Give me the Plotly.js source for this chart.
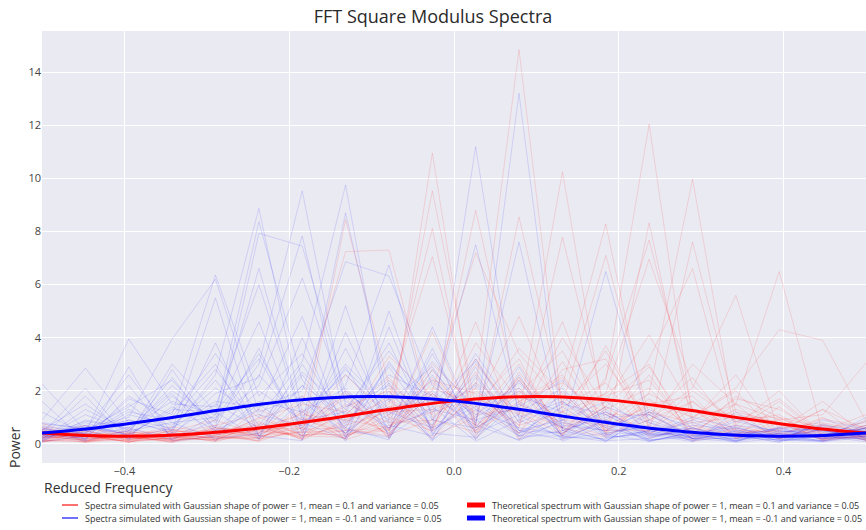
<!DOCTYPE html>
<html>
<head>
<meta charset="utf-8">
<script src="https://cdn.plot.ly/plotly-3.0.1.min.js"></script>
<style>html,body{margin:0;padding:0;background:#fff;}#chart{width:866px;height:530px;}</style>
</head>
<body>
<div id="chart"></div>
<script>
// Frequency grid of the simulated spectra
const freqs = [-0.5,-0.4474,-0.3947,-0.3421,-0.2895,-0.2368,-0.1842,-0.1316,-0.0789,-0.0263,
  0.0263,0.0789,0.1316,0.1842,0.2368,0.2895,0.3421,0.3947,0.4474,0.5];

// Theoretical spectra
const theoFreqs = [-0.5,-0.45,-0.4,-0.35,-0.3,-0.25,-0.2,-0.15,-0.1,-0.05,0,
  0.05,0.1,0.15,0.2,0.25,0.3,0.35,0.4,0.45,0.5];
const theoRed = [0.41,0.32,0.29,0.32,0.41,0.55,0.74,0.96,1.20,1.43,1.62,
  1.74,1.78,1.74,1.62,1.43,1.20,0.96,0.74,0.55,0.41];
const theoBlue = [0.41,0.55,0.74,0.96,1.20,1.43,1.62,1.74,1.78,1.74,1.62,
  1.43,1.20,0.96,0.74,0.55,0.41,0.32,0.29,0.32,0.41];

// Simulated spectra, mean = 0.1
const simRed = [
 [0.35,0.12,0.30,0.08,0.52,0.21,0.95,0.40,1.60,0.55,2.10,14.85,1.20,0.45,1.70,0.60,0.25,0.90,0.15,0.48],
 [0.20,0.38,0.06,0.41,0.15,0.80,0.22,1.30,0.35,1.90,0.50,2.10,0.30,2.40,12.04,0.90,1.50,0.18,0.70,0.12],
 [0.55,0.10,0.25,0.05,0.62,0.30,0.60,0.20,1.40,0.45,1.80,0.70,3.10,0.50,1.90,9.97,0.70,0.30,0.28,0.60],
 [0.10,0.48,0.20,0.36,0.08,0.55,0.70,1.70,0.25,10.96,0.60,2.50,0.40,1.40,0.35,1.30,0.20,0.80,0.12,0.35],
 [0.30,0.05,0.40,0.12,0.35,0.85,0.15,0.90,2.10,0.60,3.00,1.10,10.25,0.70,2.60,0.30,1.00,0.25,0.55,0.20],
 [0.25,0.26,0.10,0.50,0.28,0.12,1.20,0.30,0.90,9.53,1.40,0.40,2.20,8.28,0.50,1.60,0.45,0.95,0.35,0.15],
 [0.08,0.20,0.32,0.18,0.55,0.60,0.25,8.45,2.20,1.10,8.80,1.50,0.80,0.30,8.33,0.70,0.30,1.40,0.20,0.30],
 [0.45,0.30,0.08,0.25,0.12,0.38,0.85,1.80,0.40,1.90,0.70,8.55,1.50,3.00,0.90,2.10,5.60,0.40,0.75,0.25],
 [0.15,0.40,0.25,0.10,0.70,0.20,0.45,0.50,1.50,8.11,0.30,2.70,0.60,1.80,2.40,0.40,1.50,6.49,0.40,0.38],
 [0.36,0.08,0.15,0.42,0.22,1.00,0.30,0.25,1.10,2.40,1.90,0.60,7.78,1.20,0.45,7.60,1.20,0.80,0.15,0.70],
 [0.22,0.50,0.18,0.28,0.38,0.10,1.50,7.24,7.30,1.00,2.30,1.20,0.35,2.50,7.68,1.30,0.35,0.30,1.00,0.18],
 [0.55,0.18,0.36,0.14,0.18,0.55,0.60,2.00,0.50,2.00,7.20,3.40,1.50,7.10,1.10,0.30,1.80,1.00,0.25,0.42],
 [0.12,0.10,0.42,0.45,0.50,0.70,0.20,0.80,1.80,7.05,0.70,1.90,3.50,0.60,3.20,6.60,0.50,0.45,1.30,0.12],
 [0.42,0.36,0.08,0.20,0.62,0.30,1.30,0.40,0.55,3.00,1.40,4.80,0.90,1.90,6.96,2.20,0.80,1.70,0.35,0.50],
 [0.28,0.15,0.30,0.55,0.14,0.75,0.40,1.10,2.50,0.60,3.80,1.60,2.60,0.40,1.60,1.00,2.10,4.30,3.90,0.85],
 [0.16,0.42,0.12,0.32,0.42,0.42,1.00,0.20,1.40,1.60,0.50,2.50,0.60,3.70,0.70,3.00,1.50,0.90,1.10,3.05],
 [0.50,0.28,0.22,0.12,0.28,0.18,0.50,1.50,0.80,0.90,3.20,0.80,4.00,1.30,2.10,0.35,0.70,2.00,0.30,0.60],
 [0.24,0.55,0.40,0.24,0.16,0.40,1.80,0.55,0.30,2.30,1.20,3.60,1.90,0.50,1.50,1.80,0.20,0.55,1.60,0.32],
 [0.65,0.12,0.16,0.40,0.70,1.10,0.30,0.70,1.20,1.30,2.10,0.40,2.80,3.20,0.40,0.90,2.60,0.30,0.50,1.10],
 [0.08,0.30,0.48,0.16,0.25,0.25,0.70,1.40,2.00,0.30,1.00,3.00,0.35,1.60,4.10,1.30,1.10,0.80,0.22,0.24],
 [0.78,0.20,0.28,0.65,0.35,0.50,0.35,0.35,0.50,4.20,0.60,1.60,2.30,1.10,1.10,2.50,0.40,0.60,0.80,0.45],
 [0.30,0.70,0.10,0.22,0.48,0.10,0.60,2.60,1.00,0.50,4.60,0.25,1.40,2.30,0.25,0.60,1.70,1.30,0.42,0.70],
 [0.14,0.08,0.55,0.30,0.10,1.30,0.55,0.60,3.30,1.80,0.20,2.00,0.90,0.70,1.40,0.20,0.60,0.18,0.70,0.30],
 [0.45,0.40,0.20,0.48,0.90,0.32,1.20,0.15,0.70,1.20,1.70,1.10,4.60,0.35,0.90,1.60,0.25,0.40,0.20,0.90],
 [0.60,0.25,0.34,0.06,0.32,0.65,0.18,1.90,0.20,2.80,0.40,2.40,0.50,1.40,2.90,0.50,1.30,0.70,0.60,0.15],
 [0.05,0.50,0.15,0.40,0.20,0.22,0.90,0.90,1.70,0.70,2.70,0.15,1.20,3.50,0.60,0.15,0.55,1.60,0.30,0.45],
 [0.38,0.16,0.38,0.20,0.58,0.48,0.30,0.50,0.60,2.10,1.50,3.20,0.20,0.90,1.90,1.00,2.00,0.25,0.95,0.62],
 [0.26,0.34,0.05,0.55,0.30,0.95,1.50,1.20,0.35,0.90,0.45,1.50,2.50,0.50,0.50,2.00,0.85,1.10,0.14,0.30],
 [0.72,0.06,0.26,0.18,0.45,0.30,0.45,0.30,1.40,0.20,2.00,0.70,1.20,1.90,3.00,0.10,0.40,0.50,1.30,0.55],
 [0.10,0.30,0.45,0.30,0.24,0.60,1.10,0.90,0.60,2.50,1.10,1.30,0.60,0.25,1.20,0.80,1.00,1.00,0.60,0.80]
];

// Simulated spectra, mean = -0.1
const simBlue = [
 [0.30,0.45,0.90,0.40,1.50,0.60,2.20,1.10,2.60,1.80,0.70,13.20,0.50,1.10,0.30,0.50,0.15,0.40,0.10,0.35],
 [0.15,0.80,0.30,1.40,0.50,2.00,0.90,2.80,1.20,0.60,11.19,0.90,1.80,0.40,0.70,0.20,0.45,0.12,0.30,0.20],
 [0.50,0.20,1.10,0.70,2.10,1.00,3.10,9.75,0.80,2.40,1.00,2.00,0.30,0.90,0.25,0.60,0.30,0.35,0.45,0.55],
 [0.22,0.60,0.45,2.20,0.80,3.00,9.53,1.40,2.20,0.50,1.70,0.40,1.40,0.30,0.90,0.35,0.10,0.50,0.20,0.30],
 [0.60,0.35,1.30,0.50,2.60,8.87,1.20,2.10,0.40,1.90,0.60,1.50,0.60,1.20,0.40,0.15,0.50,0.22,0.55,0.48],
 [0.10,0.90,0.60,1.60,1.10,8.37,2.40,0.60,3.00,1.20,2.20,0.30,0.80,0.50,0.60,0.55,0.25,0.15,0.38,0.15],
 [0.42,0.25,0.80,1.00,3.40,1.10,0.70,8.70,1.60,2.90,0.50,1.80,1.20,0.25,0.35,0.40,0.40,0.30,0.12,0.42],
 [0.35,0.70,0.20,1.80,0.60,7.93,7.45,1.90,0.90,3.10,1.30,0.60,0.40,1.40,0.80,0.20,0.20,0.45,0.50,0.26],
 [0.55,0.40,1.50,0.30,1.90,2.50,7.83,0.80,2.40,0.70,3.40,1.00,1.60,0.60,0.20,0.70,0.55,0.10,0.28,0.60],
 [0.20,1.10,0.50,2.50,0.40,1.60,1.20,2.60,1.10,2.00,0.80,7.60,0.50,1.00,1.10,0.30,0.12,0.40,0.65,0.22],
 [0.48,0.30,1.20,0.90,2.80,0.70,2.70,1.30,3.50,1.40,7.50,1.20,2.10,0.35,0.45,0.80,0.35,0.55,0.18,0.38],
 [0.12,0.65,0.35,1.30,1.20,3.20,0.50,2.20,6.74,0.90,2.60,0.50,0.90,1.60,0.55,0.25,0.60,0.20,0.40,0.50],
 [0.65,0.50,0.90,0.60,1.60,1.40,2.00,6.86,6.32,2.20,1.10,2.30,0.70,0.50,1.30,0.45,0.28,0.60,0.24,0.18],
 [0.28,0.85,0.60,2.00,0.90,6.61,1.00,3.00,1.30,1.50,3.10,0.80,1.50,1.10,0.30,0.90,0.45,0.25,0.70,0.45],
 [0.40,0.20,1.70,1.10,6.36,1.80,3.40,0.70,2.90,0.60,1.40,2.10,0.60,6.49,0.80,0.35,0.70,0.50,0.35,0.62],
 [0.18,1.30,0.50,0.80,1.00,2.20,6.24,1.60,0.60,2.80,0.90,1.40,2.40,0.60,1.20,0.60,0.20,0.65,0.50,0.28],
 [0.75,0.60,1.00,3.95,6.20,1.20,1.80,0.40,1.70,0.20,2.30,0.40,1.00,0.90,0.40,1.00,0.60,0.30,0.22,0.70],
 [0.30,0.40,3.95,1.50,1.40,6.00,0.90,1.20,3.80,0.50,1.60,0.30,0.30,1.30,0.14,0.25,0.85,0.45,0.60,0.35],
 [0.90,2.85,0.80,0.50,5.50,0.25,2.60,0.60,0.15,3.40,0.40,1.10,0.20,0.40,0.65,0.10,0.30,0.08,0.90,0.55],
 [2.26,0.50,1.40,2.40,0.60,3.60,0.15,4.20,0.70,0.30,2.90,0.20,0.50,0.15,0.50,0.20,0.95,0.35,0.30,0.85],
 [0.52,1.50,0.40,1.20,3.00,0.15,4.00,0.20,5.00,0.40,0.25,2.60,0.10,0.70,0.12,0.40,0.06,0.20,0.75,0.40],
 [1.20,0.35,2.20,0.18,1.10,4.60,0.40,3.60,0.50,4.40,0.70,0.15,2.00,0.25,0.40,0.30,0.65,0.20,0.10,0.60],
 [0.25,1.80,0.12,2.80,0.50,1.30,4.80,0.25,2.00,0.10,3.20,0.50,0.40,1.20,0.35,0.08,1.20,0.15,0.15,1.00],
 [0.80,0.55,2.60,0.40,3.80,0.30,0.12,5.20,0.20,2.60,0.15,2.40,0.30,0.10,1.10,0.20,0.08,0.60,0.48,0.25],
 [1.60,0.12,0.50,1.90,0.10,2.60,0.80,0.18,4.40,0.35,2.50,0.50,0.15,0.90,0.08,0.45,0.18,0.40,0.30,0.08],
 [0.38,2.10,0.20,0.60,2.40,0.30,3.00,0.50,0.25,3.60,0.20,1.60,0.60,0.12,0.20,0.60,0.10,0.30,0.35,0.45],
 [0.08,0.30,0.60,0.15,0.90,3.40,0.60,2.90,0.30,1.40,0.10,0.90,0.25,0.80,0.15,0.30,0.35,0.05,0.60,0.12],
 [0.60,0.15,1.80,0.80,0.20,0.40,2.20,0.10,3.10,0.90,0.60,2.90,0.25,0.20,0.50,0.12,0.50,0.25,0.10,0.30],
 [0.18,0.70,0.35,3.00,1.20,0.20,1.60,0.40,2.30,0.15,1.30,0.30,1.60,0.35,0.10,0.45,0.12,0.60,0.20,0.60],
 [0.45,0.10,2.90,0.10,0.30,1.50,0.30,2.00,0.60,1.30,0.90,0.12,0.90,0.08,1.20,0.20,0.40,0.15,0.08,0.25]
];

const legendLabels = [
  'Spectra simulated with Gaussian shape of power = 1, mean = 0.1 and variance = 0.05',
  'Theoretical spectrum with Gaussian shape of power = 1, mean = 0.1 and variance = 0.05',
  'Spectra simulated with Gaussian shape of power = 1, mean = -0.1 and variance = 0.05',
  'Theoretical spectrum with Gaussian shape of power = 1, mean = -0.1 and variance = 0.05'
];

const traces = [];
simRed.forEach(v => traces.push({x: freqs, y: v, type: 'scatter', mode: 'lines',
  line: {color: 'rgba(255,0,0,0.12)', width: 1}, showlegend: false, hoverinfo: 'skip'}));
simBlue.forEach(v => traces.push({x: freqs, y: v, type: 'scatter', mode: 'lines',
  line: {color: 'rgba(0,0,255,0.12)', width: 1}, showlegend: false, hoverinfo: 'skip'}));
traces.push({x: theoFreqs, y: theoRed, type: 'scatter', mode: 'lines', name: legendLabels[1],
  line: {color: '#ff0000', width: 3, shape: 'spline'}, showlegend: false});
traces.push({x: theoFreqs, y: theoBlue, type: 'scatter', mode: 'lines', name: legendLabels[3],
  line: {color: '#0000ff', width: 3, shape: 'spline'}, showlegend: false});

// Legend drawn as paper-anchored shapes and texts (2 columns x 2 rows)
const W = 824, H = 432, L = 42, B = 463;
const px2x = p => (p - L) / W;
const px2y = p => (B - p) / H;
const legRows = [505, 518, 505, 518];
const legCols = [62, 62, 467, 467];
const legOrder = [0, 2, 1, 3];
const legColors = ['#ff4040', '#ff0000', '#4040ff', '#0000ff'];
const legWidths = [1.5, 5, 1.5, 5];
const legLens = [16, 16, 18, 18];
const shapes = [];
const annotations = [
  {text: 'Reduced Frequency', xref: 'paper', yref: 'paper', x: 0, xanchor: 'left',
    y: -0.056, yanchor: 'middle', showarrow: false, font: {size: 14, color: '#333333'}},
  {text: 'Power', xref: 'paper', yref: 'paper', x: -0.034, xanchor: 'center',
    y: 0.037, yanchor: 'middle', textangle: -90, showarrow: false, font: {size: 14, color: '#333333'}}
];
legOrder.forEach((li, slot) => {
  const x0 = legCols[slot], yy = legRows[slot], len = legLens[slot];
  shapes.push({type: 'line', xref: 'paper', yref: 'paper', x0: px2x(x0), x1: px2x(x0 + len),
    y0: px2y(yy), y1: px2y(yy), line: {color: legColors[li], width: legWidths[li]}});
  annotations.push({text: legendLabels[li], xref: 'paper', yref: 'paper', x: px2x(x0 + len + 5),
    xanchor: 'left', y: px2y(yy), yanchor: 'middle', showarrow: false,
    font: {size: 9, color: '#333333'}});
});

const layout = {
  width: 866, height: 530,
  margin: {l: 42, r: 0, t: 31, b: 67, pad: 0, autoexpand: false},
  paper_bgcolor: '#ffffff',
  plot_bgcolor: '#EAEAF2',
  font: {family: '"Open Sans", Arial, sans-serif', color: '#333333'},
  title: {text: 'FFT Square Modulus Spectra', x: 0.5, xanchor: 'center', y: 0.968, yanchor: 'middle',
    font: {size: 18, color: '#2a2a2a'}},
  xaxis: {range: [-0.5, 0.5], tickvals: [-0.4, -0.2, 0, 0.2, 0.4], tickformat: '.1f',
    showgrid: true, gridcolor: '#ffffff', gridwidth: 1, zeroline: false, showline: false,
    ticks: '', tickfont: {size: 11, color: '#444444'}},
  yaxis: {range: [-0.72, 15.55], tickvals: [0, 2, 4, 6, 8, 10, 12, 14],
    showgrid: true, gridcolor: '#ffffff', gridwidth: 1, zeroline: false, showline: false,
    ticks: '', tickfont: {size: 11, color: '#444444'}},
  shapes: shapes,
  annotations: annotations,
  showlegend: false
};

Plotly.newPlot('chart', traces, layout, {displayModeBar: false, staticPlot: true});
</script>
</body>
</html>
